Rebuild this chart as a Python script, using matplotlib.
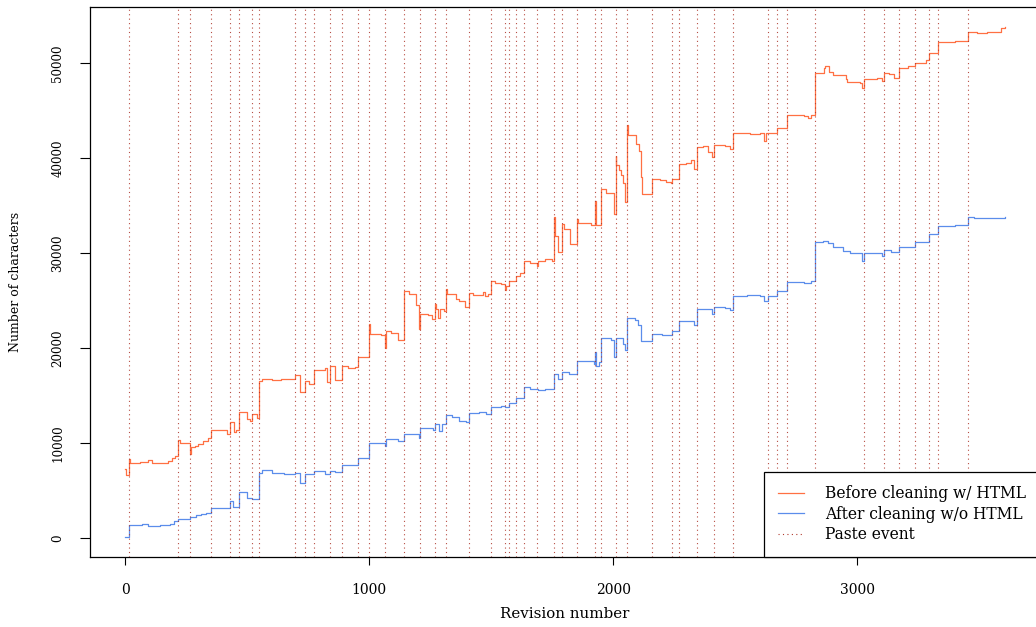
import matplotlib
matplotlib.use("Agg")
import matplotlib.pyplot as plt
from matplotlib.lines import Line2D

# Revision numbers at which a paste event happened
paste_revisions = [16, 218, 265, 353, 428, 466, 518, 548, 698, 738, 772, 840, 887,
                   953, 1000, 1064, 1144, 1209, 1270, 1316, 1409, 1498, 1556, 1571,
                   1603, 1634, 1687, 1757, 1790, 1851, 1926, 1950, 2010, 2058, 2158,
                   2239, 2268, 2345, 2412, 2493, 2636, 2671, 2714, 2828, 3029, 3109,
                   3170, 3235, 3293, 3333, 3454]

# Document length including HTML markup (revision, characters)
html_rev = [0, 5, 16, 20, 60, 95, 110, 160, 175, 190, 205, 218, 225, 265, 268, 285,
            300, 320, 340, 353, 416, 428, 445, 455, 466, 498, 510, 518, 540, 548, 560,
            600, 640, 680, 698, 716, 738, 755, 772, 818, 826, 840, 859, 887, 915, 940,
            953, 1000, 1004, 1050, 1064, 1068, 1090, 1120, 1144, 1165, 1190, 1205, 1209,
            1240, 1258, 1270, 1273, 1284, 1290, 1305, 1316, 1320, 1357, 1370, 1391, 1409,
            1425, 1466, 1475, 1488, 1498, 1515, 1540, 1556, 1560, 1571, 1603, 1620, 1634,
            1660, 1687, 1690, 1720, 1750, 1757, 1760, 1775, 1790, 1800, 1821, 1851, 1855,
            1880, 1910, 1926, 1929, 1950, 1970, 2000, 2005, 2010, 2013, 2022, 2030, 2040,
            2050, 2058, 2061, 2094, 2107, 2112, 2120, 2158, 2190, 2215, 2235, 2239, 2268,
            2300, 2319, 2332, 2345, 2370, 2387, 2405, 2412, 2460, 2480, 2493, 2560, 2600,
            2620, 2628, 2671, 2714, 2780, 2800, 2810, 2828, 2864, 2870, 2885, 2900, 2953,
            2960, 3010, 3021, 3029, 3080, 3100, 3109, 3130, 3150, 3170, 3210, 3235, 3270,
            3280, 3293, 3333, 3400, 3454, 3490, 3530, 3560, 3590, 3605]
html_chars = [7250, 6650, 8300, 7950, 8050, 8200, 7900, 7950, 8100, 8400, 8650, 10300,
              10050, 8860, 9600, 9700, 9900, 10200, 10580, 11360, 11000, 12240, 11180,
              11400, 13320, 12520, 12350, 13050, 12690, 16490, 16740, 16600, 16800, 16700,
              17160, 15400, 16560, 16210, 17690, 17880, 16460, 18070, 16670, 18150, 17880,
              18050, 19100, 22540, 21490, 21400, 20010, 21840, 21600, 20860, 25990, 25700,
              24550, 22020, 23600, 23530, 23070, 24660, 24130, 23200, 24130, 23900, 26240,
              25710, 25180, 25000, 24300, 25780, 25600, 25880, 25500, 25700, 27110, 26900,
              26800, 26130, 26500, 27110, 27640, 27900, 29150, 28950, 28700, 29220, 29400,
              29220, 33790, 31860, 30100, 33100, 32570, 30990, 33620, 33130, 33130, 33000,
              35480, 33000, 36760, 36310, 36310, 34080, 40200, 39250, 38800, 38200, 37400,
              35370, 43540, 42410, 41530, 40800, 38010, 36260, 37840, 37700, 37500, 37380,
              37840, 39420, 39480, 39780, 38900, 41180, 41300, 40650, 40150, 41360, 41300,
              41000, 42630, 42500, 42650, 41780, 42650, 43220, 44520, 44400, 44200, 44600,
              48930, 49490, 49690, 49120, 48740, 48360, 48000, 47900, 47420, 48360, 48500,
              48100, 48930, 48900, 48400, 49490, 49700, 50060, 50000, 50320, 51030, 52210,
              52300, 53270, 53200, 53300, 53250, 53750, 53780]

# Document length after cleaning, without HTML (revision, characters)
text_rev = [0, 16, 50, 68, 95, 143, 180, 185, 200, 218, 265, 290, 310, 330, 353, 428,
            440, 466, 498, 518, 548, 560, 600, 650, 698, 716, 738, 772, 818, 826, 840,
            860, 887, 953, 1000, 1064, 1070, 1120, 1144, 1205, 1209, 1262, 1270, 1285,
            1300, 1316, 1340, 1370, 1395, 1409, 1450, 1480, 1498, 1540, 1556, 1571, 1603,
            1634, 1660, 1690, 1720, 1757, 1775, 1790, 1820, 1851, 1900, 1920, 1926, 1930,
            1940, 1950, 1990, 2002, 2005, 2010, 2030, 2040, 2050, 2058, 2090, 2100, 2112,
            2158, 2200, 2239, 2268, 2320, 2332, 2345, 2405, 2412, 2460, 2480, 2493, 2550,
            2600, 2620, 2636, 2671, 2714, 2780, 2810, 2828, 2860, 2880, 2900, 2940, 2970,
            3021, 3029, 3100, 3109, 3140, 3170, 3235, 3293, 3333, 3400, 3440, 3454, 3480,
            3605]
text_chars = [150, 1370, 1400, 1510, 1270, 1370, 1330, 1500, 1750, 1970, 2250, 2400,
              2550, 2670, 3200, 3900, 3300, 4880, 4190, 4080, 6890, 7140, 6900, 6750, 6800,
              5800, 6700, 7110, 6700, 6700, 7110, 7000, 7670, 8440, 10020, 9700, 10380,
              10200, 10980, 10500, 11630, 11360, 12000, 11290, 12000, 12980, 12800, 12340,
              12200, 13220, 13300, 13100, 13820, 13900, 13750, 14270, 14740, 15860, 15650,
              15600, 15700, 17270, 16700, 17440, 17300, 18670, 18600, 18300, 19550, 18100,
              18500, 21030, 20900, 20700, 19100, 21030, 21100, 20400, 19800, 23140, 23000,
              22400, 20780, 21490, 21400, 21840, 22820, 22900, 22400, 24130, 23600, 24370,
              24200, 24000, 25530, 25600, 25500, 24930, 25530, 26060, 26930, 26900, 27100,
              31150, 31330, 31100, 30660, 30280, 29970, 29150, 29970, 29700, 30380, 30100,
              30700, 31230, 31980, 32840, 32950, 33000, 33780, 33750, 33780]

x_ticks = [0, 1000, 2000, 3000]
y_ticks = [0, 10000, 20000, 30000, 40000, 50000]

html_color = "#FF7043"
text_color = "#5B8DEB"
paste_color = "#B03A2E"

plt.rcParams["font.family"] = ["DejaVu Serif"]
plt.rcParams["font.size"] = 10

fig = plt.figure(figsize=(10.36, 6.27), dpi=100)
ax = fig.add_axes([90 / 1036, 1 - 557 / 627, 950 / 1036, 550 / 627])

ax.plot(html_rev, html_chars, drawstyle="steps-post", color=html_color, lw=0.9)
ax.plot(text_rev, text_chars, drawstyle="steps-post", color=text_color, lw=0.9)
for r in paste_revisions:
    ax.axvline(r, color=paste_color, lw=0.8, linestyle=(0, (1, 3)), alpha=0.9)

# 4% padding on each side, as in R's default axis style
xmin, xmax = min(html_rev), max(html_rev)
ymin, ymax = min(text_chars), max(html_chars)
xp, yp = 0.04 * (xmax - xmin), 0.04 * (ymax - ymin)
ax.set_xlim(xmin - xp, xmax + xp)
ax.set_ylim(ymin - yp, ymax + yp)

ax.set_xticks(x_ticks)
ax.set_xticklabels([str(v) for v in x_ticks])
ax.set_yticks(y_ticks)
ax.set_yticklabels([str(v) for v in y_ticks], rotation=90, va="center")
ax.tick_params(axis="x", direction="out", length=5.5, width=0.8, pad=13, labelsize=10)
ax.tick_params(axis="y", direction="out", length=7.5, width=0.8, pad=11, labelsize=8.6)
for s in ax.spines.values():
    s.set_linewidth(0.9)

ax.set_xlabel("Revision number", fontsize=10.8, va="center")
ax.xaxis.set_label_coords(0.5, (557 - 614) / 550)
ax.set_ylabel("Number of characters", fontsize=9.0, va="center")
ax.yaxis.set_label_coords((16 - 90) / 950, 0.5)

handles = [Line2D([], [], color=html_color, lw=0.9),
           Line2D([], [], color=text_color, lw=0.9),
           Line2D([], [], color=paste_color, lw=0.8, linestyle=(0, (1, 3)))]
labels = ["Before cleaning w/ HTML", "After cleaning w/o HTML", "Paste event"]
leg = ax.legend(handles, labels, loc="lower right", borderaxespad=0, fancybox=False,
                framealpha=1, edgecolor="black", fontsize=11.2, handlelength=1.7,
                handletextpad=1.35, labelspacing=0.23, borderpad=0.87)
leg.get_frame().set_linewidth(0.9)

fig.savefig("out.png", dpi=100)
